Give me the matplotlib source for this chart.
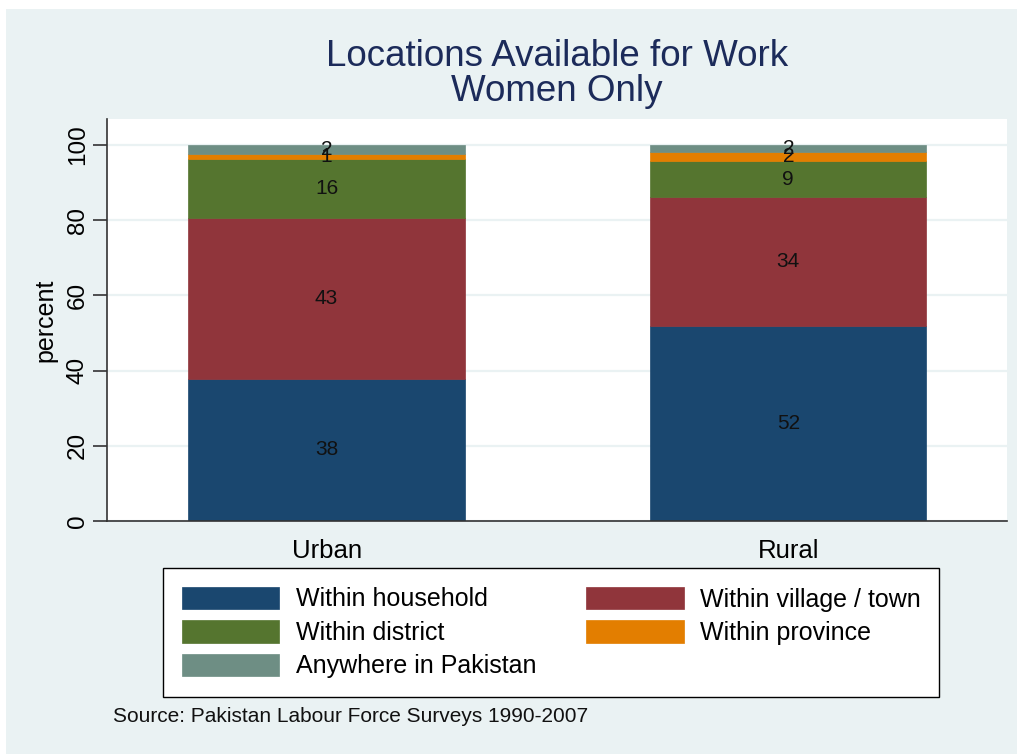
import numpy as np
import matplotlib
matplotlib.use('Agg')
import matplotlib.pyplot as plt
from matplotlib.patches import Rectangle

plt.rcParams['font.family'] = ['Liberation Sans', 'DejaVu Sans']

# data (percent of women)
areas = ['Urban', 'Rural']
categories = ['Within household', 'Within village / town', 'Within district',
              'Within province', 'Anywhere in Pakistan']
household = [37.8, 51.9]
village = [42.8, 34.3]
district = [15.6, 9.4]
province = [1.4, 2.4]
anywhere = [2.4, 2.0]
yticks = [0, 20, 40, 60, 80, 100]

colors = ['#1A476F', '#90353B', '#55752F', '#E37E00', '#6E8E84']
bg = '#EAF2F3'

W, H = 1023, 754
fig = plt.figure(figsize=(W / 100, H / 100), dpi=100, facecolor='white')

# stata style grey-blue background with a thin white border
fig.patches.append(Rectangle((6 / W, 0), (W - 12) / W, (H - 9) / H,
                             transform=fig.transFigure, facecolor=bg,
                             edgecolor='none', zorder=-5))

ax = fig.add_axes([107 / W, 1 - 521 / H, 900 / W, 402 / H])
ax.set_facecolor('white')

xpos = [0.244, 0.757]
bottom = np.zeros(len(areas))
handles = []
for name, vals, col in zip(categories,
                           [household, village, district, province, anywhere],
                           colors):
    bars = ax.bar(xpos, vals, width=0.307, bottom=bottom, color=col,
                  edgecolor=col, linewidth=0.5, label=name, zorder=2)
    ax.bar_label(bars, labels=['%.0f' % v for v in vals], label_type='center',
                 fontsize=15, color='#111111', zorder=3)
    handles.append(bars)
    bottom += np.array(vals)

ax.set_xlim(0, 1)
ax.set_ylim(0, 106.9)
ax.set_yticks(yticks)
ax.set_yticklabels([str(t) for t in yticks], rotation=90, va='center')
ax.set_xticks(xpos)
ax.set_xticklabels(areas)
ax.tick_params(axis='y', length=10, width=1.2, pad=3, labelsize=17.5,
               color='#333333')
ax.tick_params(axis='x', length=0, pad=13, labelsize=18.5)
ax.set_ylabel('percent', fontsize=18, labelpad=7)

for s in ['top', 'right']:
    ax.spines[s].set_visible(False)
for s in ['left', 'bottom']:
    ax.spines[s].set_color('#333333')
    ax.spines[s].set_linewidth(1.2)

ax.yaxis.grid(True, color=bg, linewidth=1.6, zorder=1)
ax.set_axisbelow(True)

fig.text(557 / W, 1 - 74 / H, 'Locations Available for Work\nWomen Only',
         ha='center', va='center', fontsize=26.5, color='#1C2B5A',
         linespacing=1.0)

# legend filled row by row like stata
order = [0, 2, 4, 1, 3]
leg = fig.legend([handles[i] for i in order], [categories[i] for i in order],
                 loc='upper left', bbox_to_anchor=(163 / W, 1 - 568 / H),
                 ncol=2, fontsize=18, frameon=True, fancybox=False,
                 edgecolor='black', facecolor='white', framealpha=1,
                 handlelength=3.9, handleheight=1.0, handletextpad=0.65,
                 columnspacing=2.0, labelspacing=0.35, borderpad=0.75,
                 borderaxespad=0)
leg.get_frame().set_linewidth(1.0)

fig.text(113 / W, 1 - 717 / H, 'Source: Pakistan Labour Force Surveys 1990-2007',
         ha='left', va='center', fontsize=15, color='#111111')

fig.savefig('out.png', dpi=100, facecolor='white')
